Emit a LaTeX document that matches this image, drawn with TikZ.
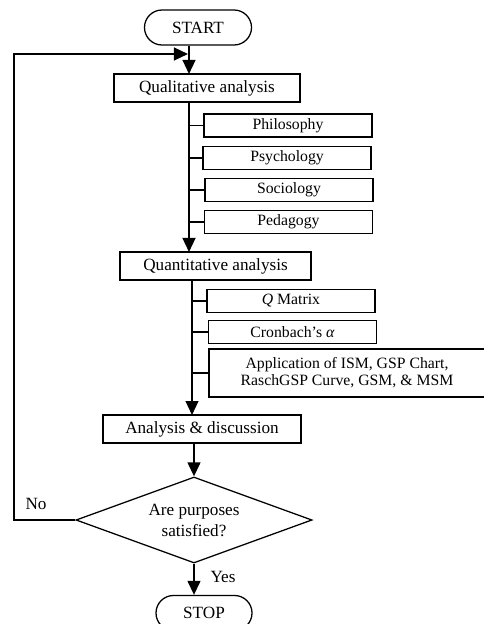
\documentclass[tikz,border=0pt]{standalone}
\usepackage{fontspec}
\setmainfont{Liberation Serif}
\usepackage{tikz}
\usetikzlibrary{positioning, shapes.geometric, arrows.meta}

\begin{document}
\begin{tikzpicture}[
  x=0.025cm, y=-0.025cm,
  >={Triangle[length=3.5mm, width=3.2mm]},
  flow/.style={->, draw=black, line width=1.3pt},
  link/.style={draw=black, line width=1.3pt},
  terminal/.style={draw, line width=0.9pt, rounded corners=0.4375cm,
                   minimum width=2.675cm, minimum height=0.875cm, inner sep=0pt,
                   font=\fontsize{12.2}{14}\selectfont},
  stage/.style={draw, line width=0.9pt, minimum height=0.7cm, inner sep=0pt,
                font=\fontsize{12.2}{14}\selectfont},
  topic/.style={draw, line width=0.9pt, minimum width=4.2cm, minimum height=0.575cm,
                inner sep=0pt, align=center, font=\fontsize{11.2}{12}\selectfont},
  decision/.style={draw, diamond, line width=0.9pt, aspect=2.74, inner sep=0pt,
                   minimum width=5.9cm, minimum height=2.15cm, align=center,
                   font=\fontsize{12.2}{15}\selectfont},
  every node/.style={font=\fontsize{12.2}{14}\selectfont}
]
  \useasboundingbox (0,0) rectangle (483,624);

  \node[terminal] (start) at (198,27.5) {START};
  \node[stage, minimum width=4.65cm] (qualitative) at (207,88) {Qualitative analysis};
  \node[topic] (philosophy) at (288,125.5) {Philosophy};
  \node[topic] (psychology) at (287,158) {Psychology};
  \node[topic] (sociology)  at (289,190) {Sociology};
  \node[topic] (pedagogy)   at (288.5,222) {Pedagogy};
  \node[stage, minimum width=4.775cm] (quantitative) at (215.5,266) {Quantitative analysis};
  \node[topic] (qmatrix)  at (291,301) {\textit{Q} Matrix};
  \node[topic] (cronbach) at (292.5,332) {Cronbach’s \textit{α}};
  \node[topic, minimum width=6.9cm, minimum height=1.2cm]
    (application) at (347,373) {Application of ISM, GSP Chart,\\RaschGSP Curve, GSM, \& MSM};
  \node[stage, minimum width=4.95cm] (analysis) at (202,429) {Analysis \& discussion};
  \node[decision] (purposes) at (194,520) {Are purposes\\satisfied?};
  \node[terminal, minimum width=2.4cm] (stop) at (204,613) {STOP};
  \node (no)  at (36,504) {No};
  \node (yes) at (223,577) {Yes};

  \coordinate (qualIn) at (189,74);
  \coordinate (quantIn) at (189,252);
  \coordinate (analysisIn) at (192,415);
  \coordinate (loopTop) at (14,54);
  \coordinate (loopIn) at (188,54);

  \draw[flow] (start.south -| qualIn) -- (qualIn);
  \draw[flow] (qualitative.south -| quantIn) -- (quantIn);
  \draw[flow] (quantitative.south -| analysisIn) -- (analysisIn);
  \draw[flow] (analysis.south -| purposes) -- (purposes.north);
  \draw[flow] (purposes.south) -- (stop.north -| purposes);
  \draw[flow] (purposes.west) -| (loopTop) -- (loopIn);

  \foreach \topic in {philosophy, psychology, sociology, pedagogy}
    \draw[link] (\topic.west -| qualIn) -- (\topic.west);
  \foreach \topic in {qmatrix, cronbach, application}
    \draw[link] (\topic.west -| analysisIn) -- (\topic.west);
\end{tikzpicture}
\end{document}
